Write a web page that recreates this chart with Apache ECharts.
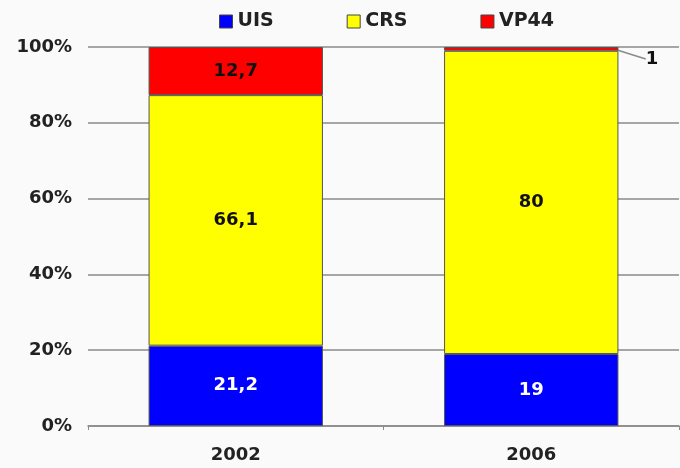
<!DOCTYPE html>
<html>
<head>
<meta charset="utf-8">
<script src="https://cdn.jsdelivr.net/npm/echarts@6/dist/echarts.min.js"></script>
<style>
html,body{margin:0;padding:0;background:#fafafa;}
#c{width:680px;height:468px;}
</style>
</head>
<body>
<div id="c"></div>
<script>
var categories = ['2002', '2006'];
var seriesNames = ['UIS', 'CRS', 'VP44'];
var uis = [21.2, 19];
var crs = [66.1, 80];
var vp44 = [12.7, 1];
var yTicks = [0, 20, 40, 60, 80, 100];

var chart = echarts.init(document.getElementById('c'), null, {renderer: 'canvas'});
var font = '"DejaVu Sans", Verdana, sans-serif';
function fmt(p){ return String(p.value).replace('.', ','); }

function mkSeries(name, data, color, labelColor) {
  return {
    name: name,
    type: 'bar',
    stack: 'total',
    barWidth: '59%',
    data: data,
    itemStyle: {color: color, borderColor: '#555', borderWidth: 1},
    label: {
      show: true,
      position: 'inside',
      formatter: fmt,
      color: labelColor,
      fontFamily: font,
      fontWeight: 'bold',
      fontSize: 18
    }
  };
}

var sUis = mkSeries('UIS', uis, '#0000ff', '#ffffff');
var sCrs = mkSeries('CRS', crs, '#ffff00', '#111111');
var sVp = mkSeries('VP44', vp44, '#ff0000', '#111111');
sVp.labelLine = {show: true, lineStyle: {color: '#8a8a8a', width: 1.5}};
sVp.labelLayout = function (params) {
  if (params.dataIndex === 1) {
    return {x: 652, y: 59, align: 'center', verticalAlign: 'middle'};
  }
  return {};
};

chart.setOption({
  backgroundColor: '#fafafa',
  animation: false,
  legend: {
    data: seriesNames,
    top: 7,
    left: 214,
    itemWidth: 13,
    itemHeight: 13,
    itemGap: 73,
    icon: 'rect',
    itemStyle: {borderColor: '#444', borderWidth: 1},
    textStyle: {fontFamily: font, fontWeight: 'bold', fontSize: 19, color: '#222'}
  },
  grid: {left: 88, right: 1, top: 47, bottom: 42, containLabel: false},
  xAxis: {
    type: 'category',
    data: categories,
    axisLine: {show: true, lineStyle: {color: '#8a8a8a', width: 1.5}},
    axisTick: {show: true, length: 4, lineStyle: {color: '#8a8a8a'}},
    axisLabel: {fontFamily: font, fontWeight: 'bold', fontSize: 18, color: '#222', margin: 20}
  },
  yAxis: {
    type: 'value',
    min: 0,
    max: 100,
    interval: 20,
    axisLine: {show: false},
    axisTick: {show: false},
    splitLine: {lineStyle: {color: '#8a8a8a', width: 1.5}},
    axisLabel: {
      fontFamily: font, fontWeight: 'bold', fontSize: 18, color: '#222', margin: 16,
      formatter: function (v) { return yTicks.indexOf(v) >= 0 ? v + '%' : ''; }
    }
  },
  series: [sUis, sCrs, sVp]
});
</script>
</body>
</html>
